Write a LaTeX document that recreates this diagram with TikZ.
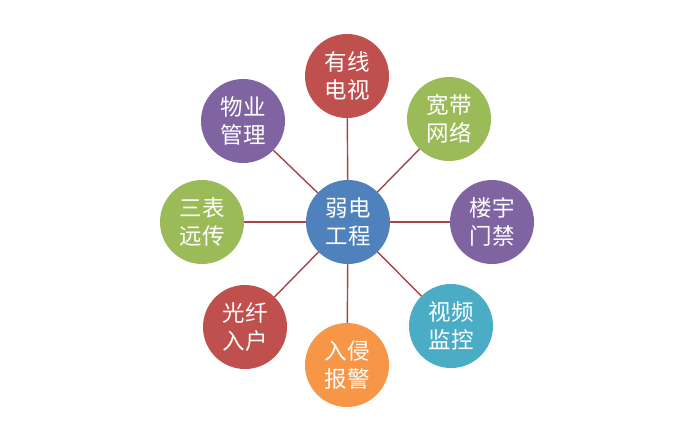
\documentclass[tikz,border=0pt]{standalone}
\usepackage{fontspec}
\newfontfamily\cjk{Noto Sans CJK SC}
\definecolor{cred}{HTML}{C0504D}
\definecolor{cgreen}{HTML}{9BBB59}
\definecolor{cpurple}{HTML}{8064A2}
\definecolor{cblue}{HTML}{4F81BD}
\definecolor{caqua}{HTML}{4BACC6}
\definecolor{corange}{HTML}{F79646}
\definecolor{linkc}{HTML}{A84446}
\begin{document}
\begin{tikzpicture}[x=1pt,y=-1pt,
  bubble/.style={circle,minimum size=84pt,inner sep=0pt,text=white,
    font=\cjk\fontsize{22.5}{28}\selectfont,align=center},
  link/.style={draw=linkc,line width=1.4pt}]
\useasboundingbox[fill=white] (0,0) rectangle (700,434);
\node[bubble,fill=cblue] (c) at (348,222) {弱电\\工程};
\node[bubble,fill=cred] (n1) at (347,76) {有线\\电视};
\node[bubble,fill=cgreen] (n2) at (449,119) {宽带\\网络};
\node[bubble,fill=cpurple] (n3) at (492,222) {楼宇\\门禁};
\node[bubble,fill=caqua] (n4) at (451,326) {视频\\监控};
\node[bubble,fill=corange] (n5) at (347,365) {入侵\\报警};
\node[bubble,fill=cred] (n6) at (245,327) {光纤\\入户};
\node[bubble,fill=cgreen] (n7) at (202,222) {三表\\远传};
\node[bubble,fill=cpurple] (n8) at (243,121) {物业\\管理};
\foreach \n in {n1,n2,n3,n4,n5,n6,n7,n8} \draw[link] (c) -- (\n);
\end{tikzpicture}
\end{document}
